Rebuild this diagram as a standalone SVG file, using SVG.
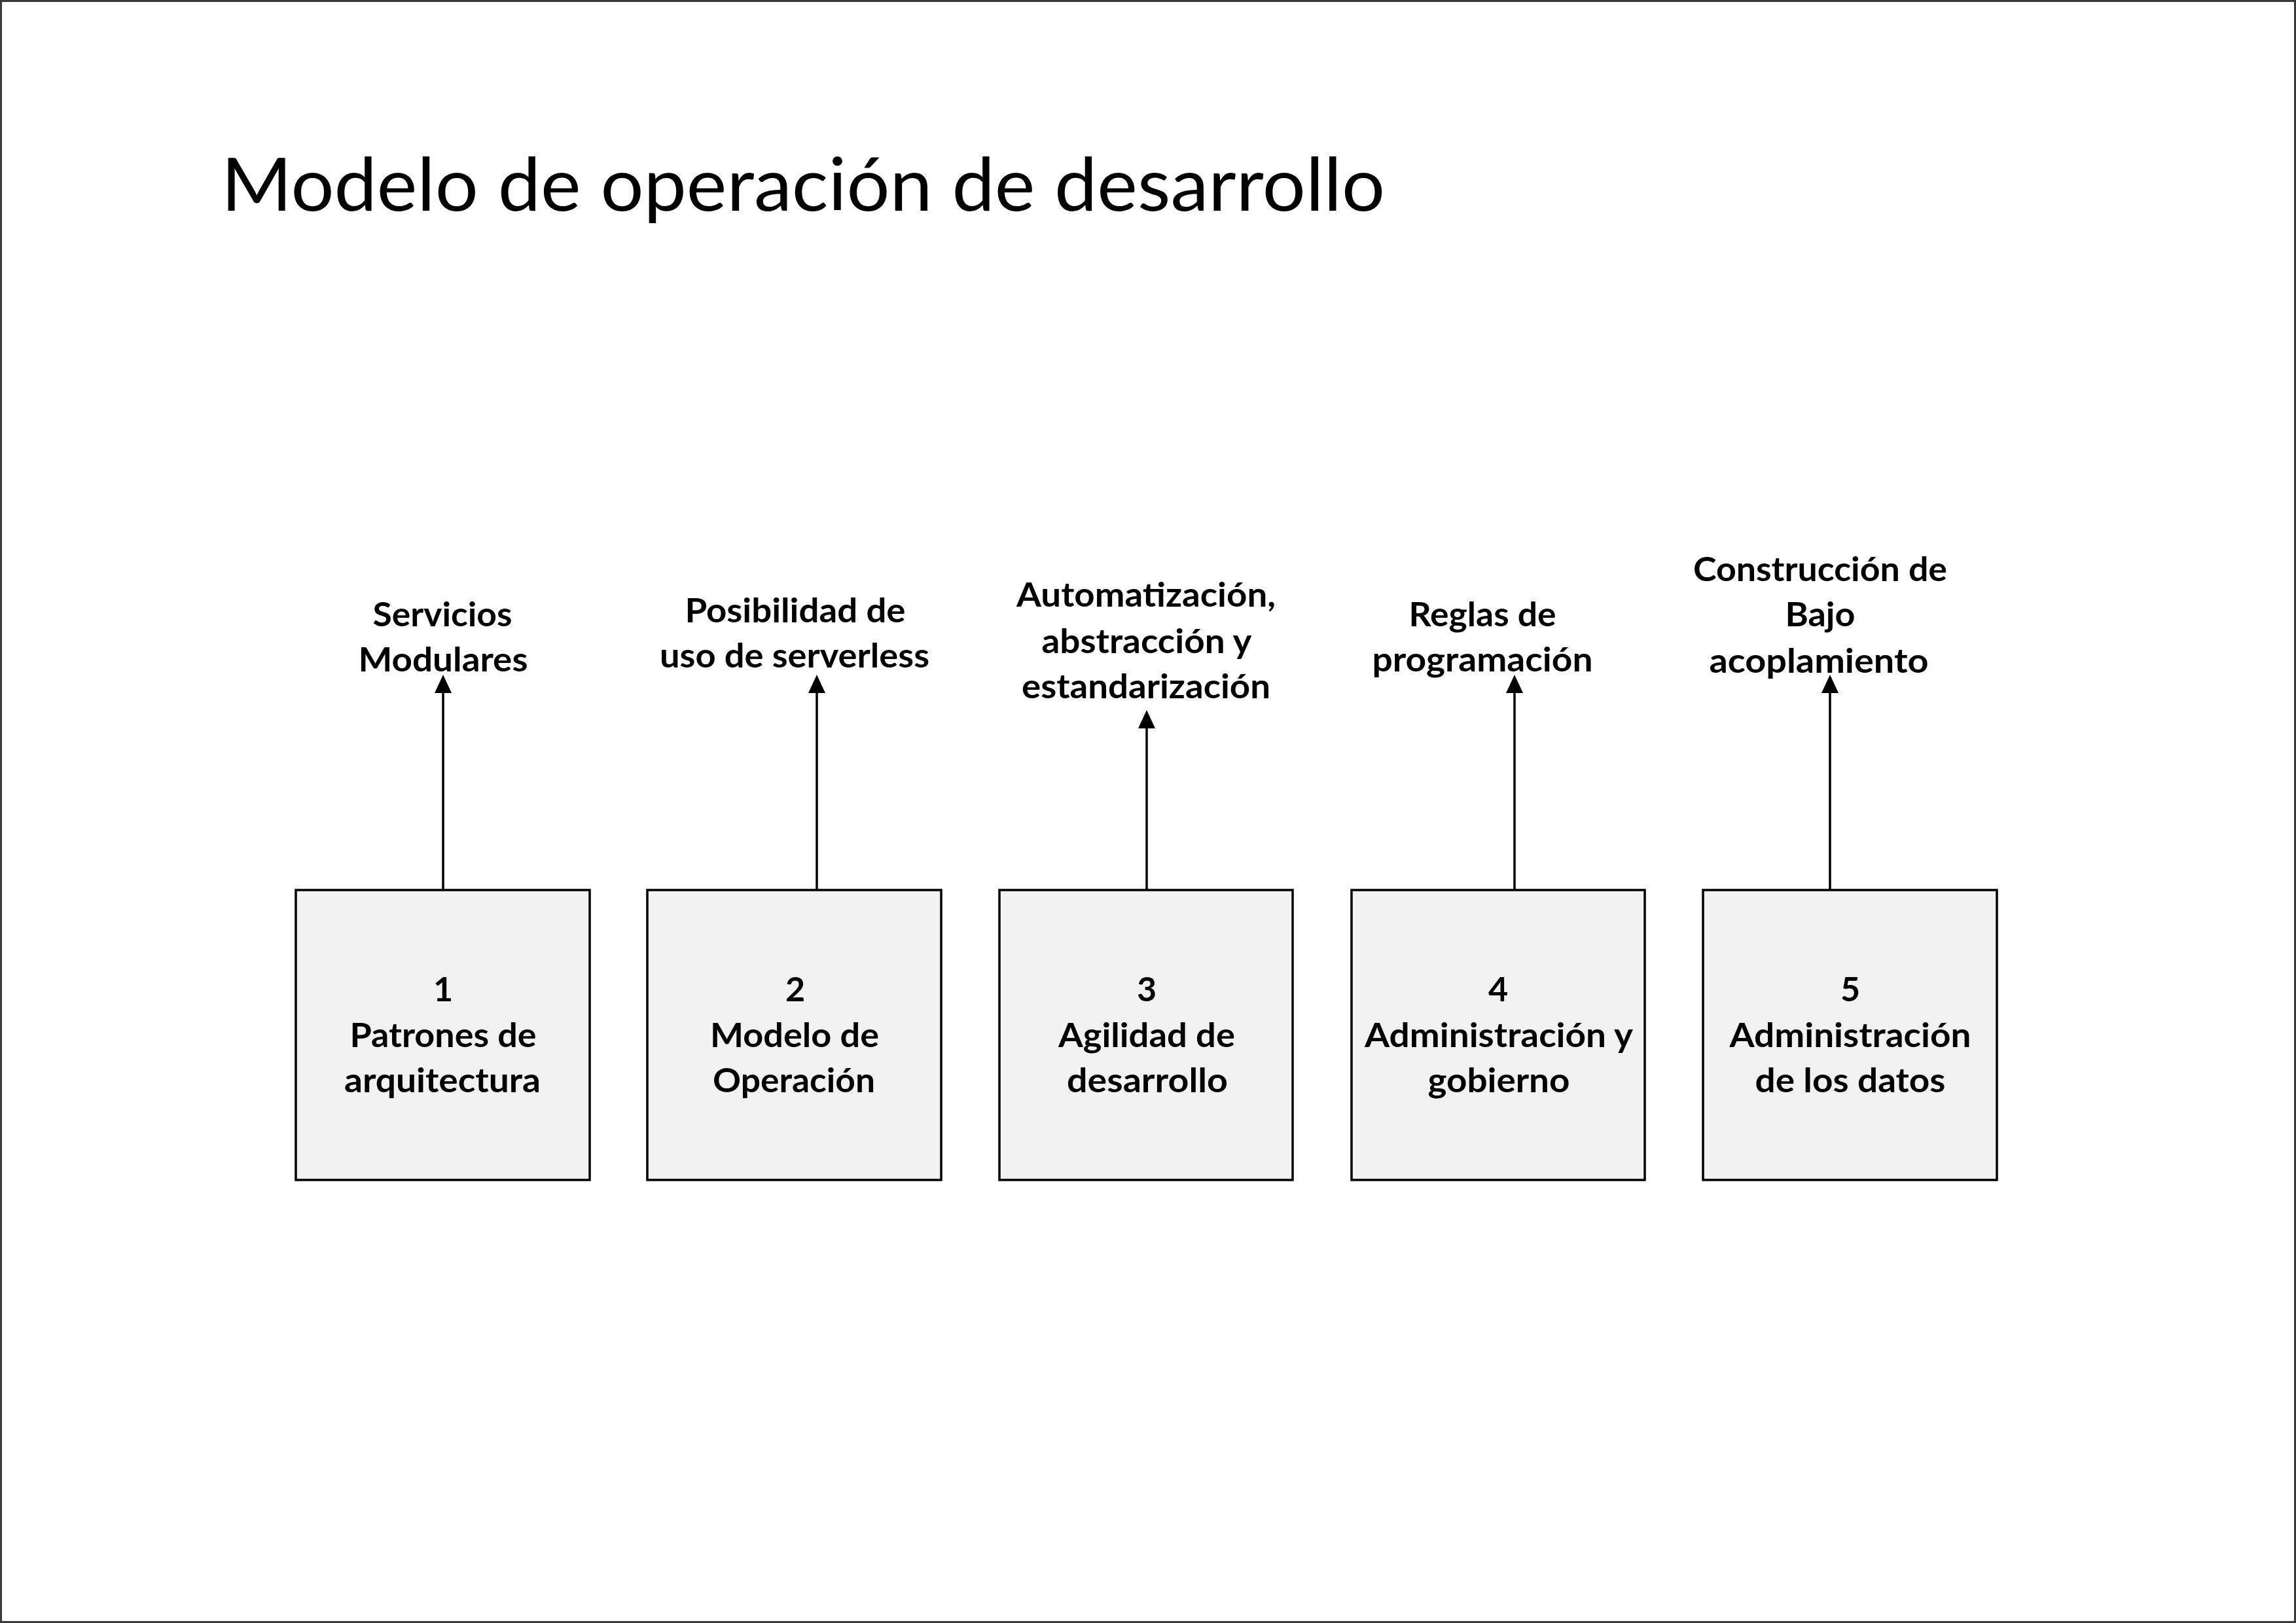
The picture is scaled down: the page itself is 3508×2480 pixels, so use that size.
<svg xmlns="http://www.w3.org/2000/svg" width="3508" height="2480" viewBox="0 0 3508 2480">
  <style>
    .title { font-family: Lato, "Liberation Sans", sans-serif; font-size: 112px; fill: #000; }
    .lbl { font-family: Lato, "Liberation Sans", sans-serif; font-weight: bold; font-size: 52px; fill: #000; text-anchor: middle; }
    .box { fill: #f2f2f2; stroke: #000; stroke-width: 3.5; }
    .conn { stroke: #000; stroke-width: 3.5; fill: none; marker-end: url(#arrow); }
  </style>
  <defs>
    <marker id="arrow" markerUnits="userSpaceOnUse" viewBox="0 0 28 26" markerWidth="28" markerHeight="26" refX="8" refY="13" orient="auto">
      <path d="M0,0 L28,13 L0,26 z" fill="#000"/>
    </marker>
  </defs>
  <rect x="0" y="0" width="3508" height="2480" fill="#fff"/>
  <rect x="1.5" y="1.5" width="3505" height="2477" fill="none" stroke="#3a3a3a" stroke-width="3"/>

  <text class="title" x="338" y="322" textLength="1778" lengthAdjust="spacingAndGlyphs">Modelo de operación de desarrollo</text>

  <g id="connectors">
    <line class="conn" x1="677" y1="1360" x2="677" y2="1051"/>
    <line class="conn" x1="1248" y1="1360" x2="1248" y2="1051"/>
    <line class="conn" x1="1752" y1="1360" x2="1752" y2="1105"/>
    <line class="conn" x1="2314" y1="1360" x2="2314" y2="1051"/>
    <line class="conn" x1="2796" y1="1360" x2="2796" y2="1051"/>
  </g>

  <g id="label1">
    <text class="lbl" x="676" y="957" textLength="213" lengthAdjust="spacingAndGlyphs">Servicios</text>
    <text class="lbl" x="677" y="1026" textLength="259" lengthAdjust="spacingAndGlyphs">Modulares</text>
  </g>
  <g id="label2">
    <text class="lbl" x="1215" y="951" textLength="337" lengthAdjust="spacingAndGlyphs">Posibilidad de</text>
    <text class="lbl" x="1214" y="1020" textLength="412" lengthAdjust="spacingAndGlyphs">uso de serverless</text>
  </g>
  <g id="label3">
    <text class="lbl" x="1751" y="927" textLength="396" lengthAdjust="spacingAndGlyphs">Automatización,</text>
    <text class="lbl" x="1752" y="998" textLength="321" lengthAdjust="spacingAndGlyphs">abstracción y</text>
    <text class="lbl" x="1751" y="1067" textLength="380" lengthAdjust="spacingAndGlyphs">estandarización</text>
  </g>
  <g id="label4">
    <text class="lbl" x="2265" y="957" textLength="225" lengthAdjust="spacingAndGlyphs">Reglas de</text>
    <text class="lbl" x="2265" y="1026" textLength="337" lengthAdjust="spacingAndGlyphs">programación</text>
  </g>
  <g id="label5">
    <text class="lbl" x="2781" y="888" textLength="388" lengthAdjust="spacingAndGlyphs">Construcción de</text>
    <text class="lbl" x="2781" y="957" textLength="107" lengthAdjust="spacingAndGlyphs">Bajo</text>
    <text class="lbl" x="2779" y="1028" textLength="335" lengthAdjust="spacingAndGlyphs">acoplamiento</text>
  </g>

  <g id="node1">
    <rect class="box" x="452" y="1360" width="449" height="443"/>
    <text class="lbl" x="677" y="1530">1</text>
    <text class="lbl" x="677" y="1600" textLength="285" lengthAdjust="spacingAndGlyphs">Patrones de</text>
    <text class="lbl" x="676" y="1669" textLength="300" lengthAdjust="spacingAndGlyphs">arquitectura</text>
  </g>
  <g id="node2">
    <rect class="box" x="989" y="1360" width="449" height="443"/>
    <text class="lbl" x="1215" y="1530">2</text>
    <text class="lbl" x="1214" y="1600" textLength="258" lengthAdjust="spacingAndGlyphs">Modelo de</text>
    <text class="lbl" x="1213" y="1669" textLength="248" lengthAdjust="spacingAndGlyphs">Operación</text>
  </g>
  <g id="node3">
    <rect class="box" x="1527" y="1360" width="448" height="443"/>
    <text class="lbl" x="1752" y="1530">3</text>
    <text class="lbl" x="1752" y="1600" textLength="270" lengthAdjust="spacingAndGlyphs">Agilidad de</text>
    <text class="lbl" x="1753" y="1669" textLength="246" lengthAdjust="spacingAndGlyphs">desarrollo</text>
  </g>
  <g id="node4">
    <rect class="box" x="2065" y="1360" width="448" height="443"/>
    <text class="lbl" x="2289" y="1530">4</text>
    <text class="lbl" x="2290" y="1600" textLength="410" lengthAdjust="spacingAndGlyphs">Administración y</text>
    <text class="lbl" x="2290" y="1669" textLength="217" lengthAdjust="spacingAndGlyphs">gobierno</text>
  </g>
  <g id="node5">
    <rect class="box" x="2602" y="1360" width="449" height="443"/>
    <text class="lbl" x="2827" y="1530">5</text>
    <text class="lbl" x="2827" y="1600" textLength="369" lengthAdjust="spacingAndGlyphs">Administración</text>
    <text class="lbl" x="2827" y="1669" textLength="291" lengthAdjust="spacingAndGlyphs">de los datos</text>
  </g>
</svg>
